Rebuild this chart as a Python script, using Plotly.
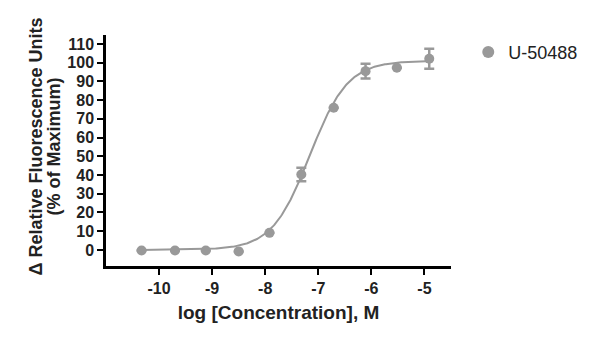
import numpy as np
import plotly.graph_objects as go

# Data
log_conc = [-10.33, -9.70, -9.12, -8.50, -7.92, -7.32, -6.71, -6.11, -5.52, -4.91]
response = [-0.3, -0.3, -0.3, -0.8, 9.1, 40.3, 75.9, 95.5, 97.3, 102.1]
err = [0, 0, 0, 0, 0, 3.6, 0, 4.0, 0, 5.3]

# Four-parameter logistic fit parameters
fit_bottom = 0.0
fit_top = 101.0
fit_logec50 = -7.16
fit_hill = 1.22

series_name = "U-50488"
x_ticks = [-10, -9, -8, -7, -6, -5]
y_ticks = [0, 10, 20, 30, 40, 50, 60, 70, 80, 90, 100, 110]

xc = np.linspace(min(log_conc), max(log_conc), 300)
yc = fit_bottom + (fit_top - fit_bottom) / (1 + 10 ** ((fit_logec50 - xc) * fit_hill))

gray = "#999999"
font_family = "Liberation Sans, Arial, sans-serif"

fig = go.Figure()
fig.add_trace(go.Scatter(x=xc, y=yc, mode="lines", line=dict(color=gray, width=2),
                         showlegend=False, hoverinfo="skip"))
fig.add_trace(go.Scatter(
    x=log_conc, y=response, mode="markers", name=series_name,
    marker=dict(color=gray, size=10),
    error_y=dict(type="data", array=err, visible=True, color=gray, thickness=2.5, width=5),
))

fig.update_layout(
    width=600, height=341,
    margin=dict(l=106, r=149, t=35, b=75),
    paper_bgcolor="white", plot_bgcolor="white",
    font=dict(family=font_family, color="#222222"),
    showlegend=True,
    legend=dict(x=1.05, y=1.005, xanchor="left", yanchor="top",
                font=dict(size=18, color="#222222", family=font_family),
                bgcolor="rgba(0,0,0,0)", itemsizing="constant"),
    xaxis=dict(
        range=[-11, -4.5], tickvals=x_ticks, ticktext=[str(v) for v in x_ticks],
        showline=True, linecolor="black", linewidth=2.5, ticks="outside",
        tickwidth=2, ticklen=6, tickcolor="black", showgrid=False, zeroline=False,
        tickfont=dict(size=16, family=font_family, color="#222222", weight="bold"),
        title=dict(text="<b>log [Concentration], M</b>",
                   font=dict(size=19, family=font_family, color="#222222"), standoff=10),
    ),
    yaxis=dict(
        range=[-8.6, 114.8], tickvals=y_ticks, ticktext=[str(v) for v in y_ticks],
        showline=True, linecolor="black", linewidth=2.5, ticks="outside",
        tickwidth=2, ticklen=6, tickcolor="black", showgrid=False, zeroline=False,
        tickfont=dict(size=16, family=font_family, color="#222222", weight="bold"),
    ),
    annotations=[
        dict(text="<b>Δ Relative Fluorescence Units</b>", xref="paper", yref="paper",
             x=(36.5 - 106) / 345, y=0.515, xanchor="center", yanchor="middle",
             textangle=-90, showarrow=False,
             font=dict(size=18, family=font_family, color="#222222")),
        dict(text="<b>(% of Maximum)</b>", xref="paper", yref="paper",
             x=(54.5 - 106) / 345, y=0.515, xanchor="center", yanchor="middle",
             textangle=-90, showarrow=False,
             font=dict(size=18, family=font_family, color="#222222")),
    ],
)

fig.write_html("out.html")
